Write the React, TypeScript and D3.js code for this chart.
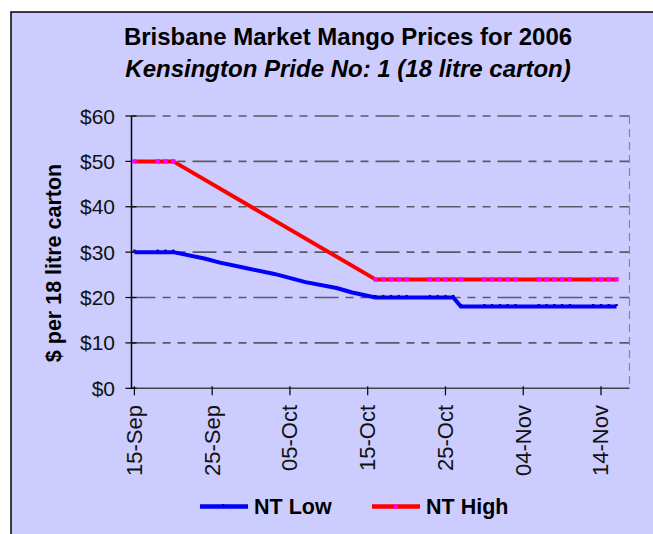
import React, { useEffect, useRef } from "react";
import { select, scaleLinear, scaleTime, line, timeParse, timeFormat } from "d3";

const W = 653;
const H = 534;

// market days that carry a marker on both series
const tradeDates = [
  "2006-09-15", "2006-09-18", "2006-09-19", "2006-09-20",
  "2006-10-16", "2006-10-17", "2006-10-18", "2006-10-19", "2006-10-20",
  "2006-10-23", "2006-10-24", "2006-10-25", "2006-10-26", "2006-10-27",
  "2006-10-30", "2006-10-31", "2006-11-01", "2006-11-02", "2006-11-03",
  "2006-11-06", "2006-11-07", "2006-11-08", "2006-11-09", "2006-11-10",
  "2006-11-13", "2006-11-14", "2006-11-15", "2006-11-16"
];
const ntHigh = [
  50, 50, 50, 50,
  24, 24, 24, 24, 24,
  24, 24, 24, 24, 24,
  24, 24, 24, 24, 24,
  24, 24, 24, 24, 24,
  24, 24, 24, 24
];
const ntLow = [
  30, 30, 30, 30,
  20, 20, 20, 20, 20,
  20, 20, 20, 20, 18,
  18, 18, 18, 18, 18,
  18, 18, 18, 18, 18,
  18, 18, 18, 18
];
// NT Low readings between the two blocks, line only (no markers)
const lowMidDates = ["2006-09-24", "2006-09-26", "2006-09-29", "2006-10-03", "2006-10-07", "2006-10-11", "2006-10-13"];
const lowMidValues = [28.6, 27.7, 26.6, 25.2, 23.4, 22.1, 21.1];

const xTickDates = ["2006-09-15", "2006-09-25", "2006-10-05", "2006-10-15", "2006-10-25", "2006-11-04", "2006-11-14"];
const yTicks = [0, 10, 20, 30, 40, 50, 60];

const font = "'Liberation Sans', Arial, sans-serif";
const parse = timeParse("%Y-%m-%d");

const App = () => {
  const svgRef = useRef<SVGSVGElement>(null);

  useEffect(() => {
    const svg = select(svgRef.current);
    svg.selectAll("*").remove();

    const left = 131.5, right = 629.5, top = 116, bottom = 388.3;

    const x = scaleTime()
      .domain([new Date(2006, 8, 14, 15), new Date(2006, 10, 17, 16)])
      .range([left, right]);
    const y = scaleLinear().domain([0, 60]).range([bottom, top]);

    // chart area
    svg.append("rect").attr("width", W).attr("height", H).attr("fill", "#fff");
    svg.append("rect")
      .attr("x", 11).attr("y", 12)
      .attr("width", W + 20).attr("height", H + 20)
      .attr("fill", "#ccccff")
      .attr("stroke", "#000").attr("stroke-width", 1.5);

    // titles
    svg.append("text")
      .attr("x", 348).attr("y", 45)
      .attr("text-anchor", "middle")
      .attr("font-family", font).attr("font-size", 24).attr("font-weight", "bold")
      .text("Brisbane Market Mango Prices for 2006");
    svg.append("text")
      .attr("x", 348).attr("y", 77)
      .attr("text-anchor", "middle")
      .attr("font-family", font).attr("font-size", 24).attr("font-weight", "bold")
      .attr("font-style", "italic")
      .text("Kensington Pride No: 1 (18 litre carton)");

    // gridlines
    svg.append("g")
      .selectAll("line")
      .data(yTicks.filter(d => d > 0))
      .join("line")
      .attr("x1", left).attr("x2", right)
      .attr("y1", d => y(d)).attr("y2", d => y(d))
      .attr("stroke", "#5a5a66").attr("stroke-width", 1.6)
      .attr("stroke-dasharray", "24 7 8 7 8 7");

    svg.append("line")
      .attr("x1", right).attr("x2", right)
      .attr("y1", top).attr("y2", bottom)
      .attr("stroke", "#888").attr("stroke-width", 1.2)
      .attr("stroke-dasharray", "8 5");

    // axes
    svg.append("line")
      .attr("x1", left).attr("x2", right)
      .attr("y1", bottom).attr("y2", bottom)
      .attr("stroke", "#444").attr("stroke-width", 1.5);
    svg.append("line")
      .attr("x1", left).attr("x2", left)
      .attr("y1", top).attr("y2", bottom)
      .attr("stroke", "#000").attr("stroke-width", 1.5);

    const yAxis = svg.append("g");
    yAxis.selectAll("line")
      .data(yTicks)
      .join("line")
      .attr("x1", left - 6).attr("x2", left + 5)
      .attr("y1", d => y(d)).attr("y2", d => y(d))
      .attr("stroke", "#000").attr("stroke-width", 1.2);
    yAxis.selectAll("text")
      .data(yTicks)
      .join("text")
      .attr("x", 115).attr("y", d => y(d))
      .attr("dy", "0.36em")
      .attr("text-anchor", "end")
      .attr("font-family", font).attr("font-size", 21).attr("fill", "#111")
      .text(d => `$${d}`);

    const fmt = timeFormat("%d-%b");
    const xAxis = svg.append("g");
    xAxis.selectAll("line")
      .data(xTickDates.map(parse))
      .join("line")
      .attr("x1", d => x(d)).attr("x2", d => x(d))
      .attr("y1", bottom - 2).attr("y2", bottom + 7)
      .attr("stroke", "#000").attr("stroke-width", 1.2);
    xAxis.selectAll("text")
      .data(xTickDates.map(parse))
      .join("text")
      .attr("transform", d => `translate(${x(d) + 7.5},405) rotate(-90)`)
      .attr("text-anchor", "end")
      .attr("font-family", font).attr("font-size", 22).attr("fill", "#111")
      .text(d => fmt(d));

    // axis title
    svg.append("text")
      .attr("transform", "translate(61,263) rotate(-90)")
      .attr("text-anchor", "middle")
      .attr("font-family", font).attr("font-size", 21.5).attr("font-weight", "bold")
      .text("$ per 18 litre carton");

    // series
    const highPts = tradeDates.map((d, i) => ({ date: parse(d), v: ntHigh[i] }));
    const lowMarked = tradeDates.map((d, i) => ({ date: parse(d), v: ntLow[i] }));
    const lowPts = lowMarked
      .concat(lowMidDates.map((d, i) => ({ date: parse(d), v: lowMidValues[i] })))
      .sort((a, b) => a.date - b.date);

    const lineGen = line<any>().x(d => x(d.date)).y(d => y(d.v));

    svg.append("path")
      .attr("d", lineGen(lowPts))
      .attr("fill", "none").attr("stroke", "#0000ff")
      .attr("stroke-width", 4).attr("stroke-linejoin", "round");
    svg.append("g")
      .selectAll("rect")
      .data(lowMarked)
      .join("rect")
      .attr("x", d => x(d.date) - 1.2).attr("y", d => y(d.v) - 2.6)
      .attr("width", 2.4).attr("height", 2)
      .attr("fill", "#0000a8");

    svg.append("path")
      .attr("d", lineGen(highPts))
      .attr("fill", "none").attr("stroke", "#ff0000")
      .attr("stroke-width", 4).attr("stroke-linejoin", "round");
    svg.append("g")
      .selectAll("rect")
      .data(highPts)
      .join("rect")
      .attr("x", d => x(d.date) - 2.2).attr("y", d => y(d.v) - 2.2)
      .attr("width", 4.4).attr("height", 4.4)
      .attr("fill", "#ff00ff");

    // legend
    const legend = [
      { name: "NT Low", color: "#0000ff", x0: 200 },
      { name: "NT High", color: "#ff0000", x0: 372 }
    ];
    const lg = svg.append("g").selectAll("g").data(legend).join("g");
    lg.append("line")
      .attr("x1", d => d.x0).attr("x2", d => d.x0 + 48)
      .attr("y1", 506.5).attr("y2", 506.5)
      .attr("stroke", d => d.color).attr("stroke-width", 4.5);
    lg.append("rect")
      .attr("x", d => d.x0 + 22).attr("y", d => (d.name === "NT Low" ? 504 : 504.5))
      .attr("width", d => (d.name === "NT Low" ? 2.4 : 4))
      .attr("height", d => (d.name === "NT Low" ? 2 : 4))
      .attr("fill", d => (d.name === "NT Low" ? "#0000a8" : "#ff00ff"));
    lg.append("text")
      .attr("x", d => d.x0 + 54).attr("y", 514)
      .attr("font-family", font).attr("font-size", 21.5).attr("font-weight", "bold")
      .text(d => d.name);
  }, []);

  return (
    <svg
      ref={svgRef}
      width={W}
      height={H}
      style={{ position: "absolute", left: 0, top: 0, display: "block" }}
    />
  );
};

export default App;
